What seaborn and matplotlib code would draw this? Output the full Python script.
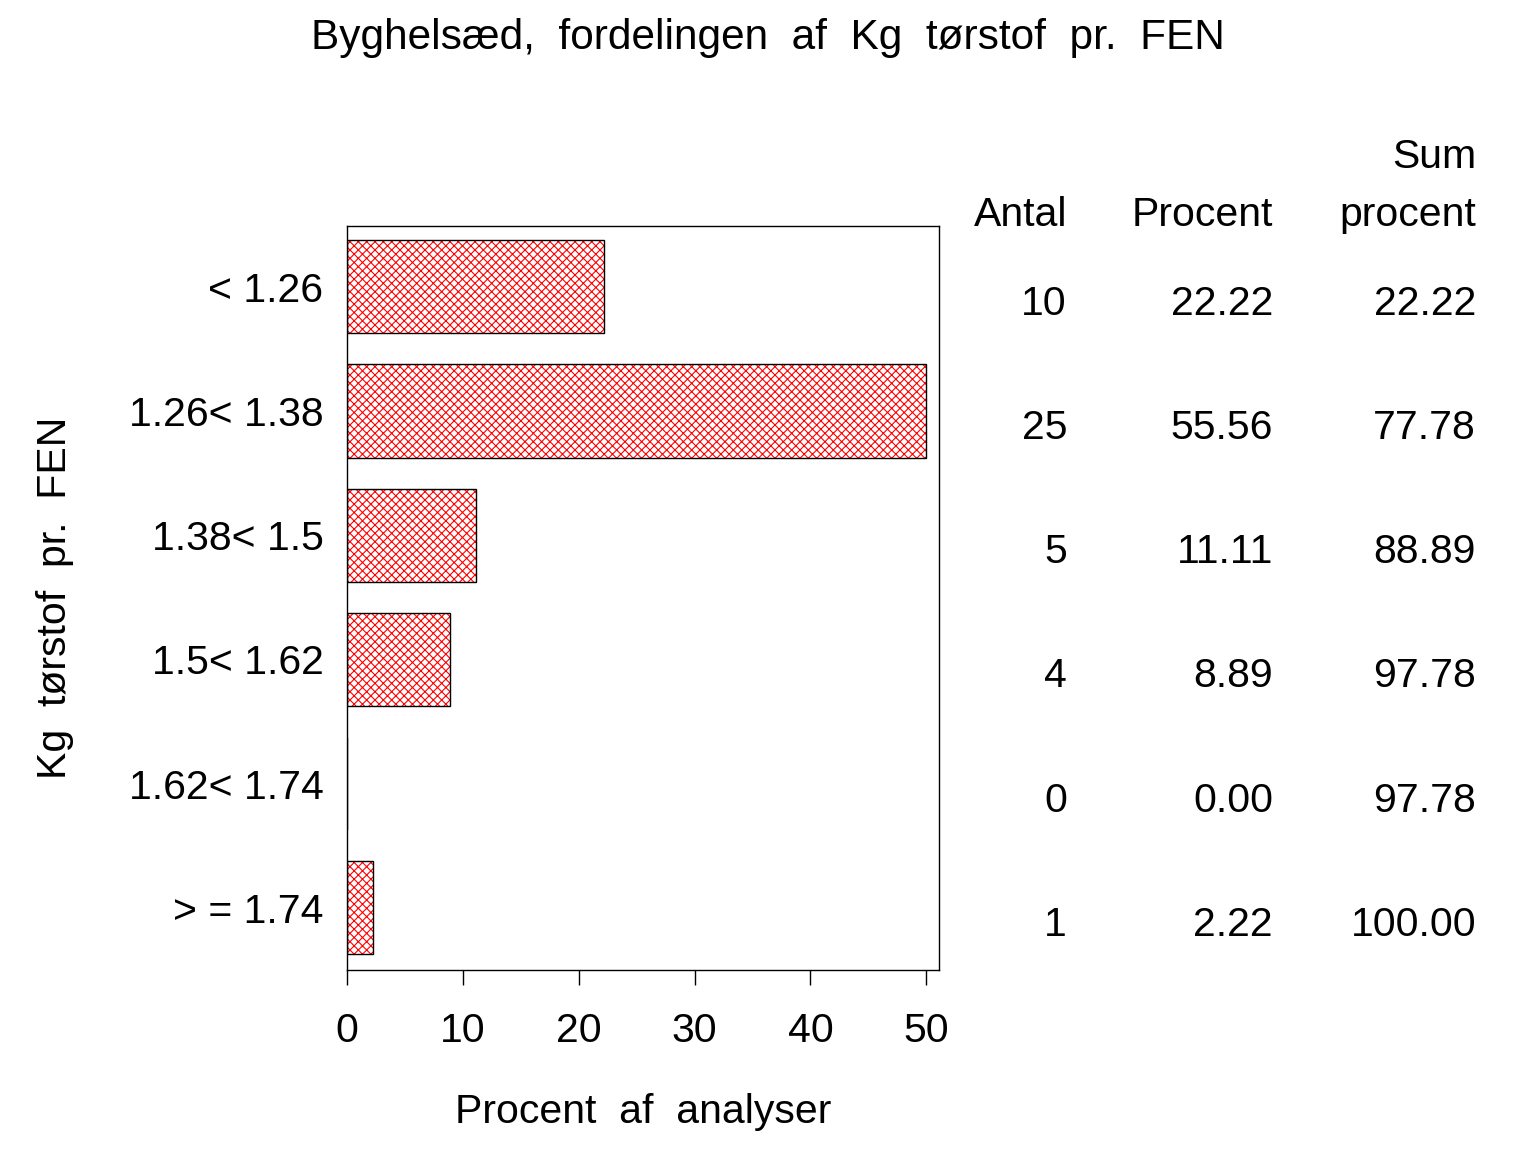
import numpy as np
import pandas as pd
import matplotlib
matplotlib.use("Agg")
import matplotlib.pyplot as plt
import matplotlib.colors as mcolors
import matplotlib.transforms as mtransforms
import seaborn as sns

# ---- data ----
categories = ["< 1.26", "1.26< 1.38", "1.38< 1.5", "1.5< 1.62", "1.62< 1.74", "> = 1.74"]
antal = [10, 25, 5, 4, 0, 1]
procent = [22.22, 55.56, 11.11, 8.89, 0.00, 2.22]
sum_procent = [22.22, 77.78, 88.89, 97.78, 97.78, 100.00]
x_ticks = [0, 10, 20, 30, 40, 50]
axis_max = 50

title = "Byghelsæd,  fordelingen  af  Kg  tørstof  pr.  FEN"
xlabel = "Procent  af  analyser"
ylabel = "Kg  tørstof  pr.  FEN"
col_headers = ["Antal", "Procent", "Sum\nprocent"]

sns.set_theme(style="white")
plt.rcParams["font.family"] = ["Liberation Sans", "DejaVu Sans"]
plt.rcParams["hatch.linewidth"] = 0.8
plt.rcParams["text.color"] = "black"
plt.rcParams["axes.labelcolor"] = "black"
plt.rcParams["xtick.color"] = "black"
plt.rcParams["ytick.color"] = "black"

df = pd.DataFrame({"cat": categories, "pct": np.minimum(procent, axis_max)})

W, H = 1536, 1152
fig = plt.figure(figsize=(W / 100, H / 100), dpi=100)
ax = fig.add_axes([347 / W, 1 - 970 / H, 592 / W, 744 / H])

sns.barplot(data=df, x="pct", y="cat", orient="h", color="white",
            edgecolor="black", linewidth=1.0, hatch="xxxx", width=0.75,
            saturation=1, ax=ax)
red = mcolors.to_rgba("red")
for p in ax.patches:
    p._hatch_color = red
    p.stale = True

ax.set_xlim(0, 51.1)
ax.set_ylim(5.5, -0.49)
ax.set_xticks(x_ticks)
ax.set_xticklabels([str(t) for t in x_ticks])
for s in ax.spines.values():
    s.set_visible(True)
    s.set_color("black")
    s.set_linewidth(1.0)

fs = 29.5
ax.tick_params(axis="x", direction="out", length=11, width=1.0, color="black",
               pad=19, labelsize=fs, bottom=True)
ax.tick_params(axis="y", length=0, pad=17, labelsize=fs, left=False)
ax.set_xlabel(xlabel, fontsize=fs, labelpad=31, color="black")
ax.set_ylabel(ylabel, fontsize=fs, labelpad=39, color="black")

fig.text(768 / W, 1 - 38 / H, title, ha="center", va="center", fontsize=30.5, color="black")

# table to the right
trans = mtransforms.blended_transform_factory(fig.transFigure, ax.transData)
col_x = [1067 / W, 1273 / W, 1476 / W]
fig.text(col_x[0], 1 - 226 / H, col_headers[0], ha="right", va="baseline", fontsize=fs)
fig.text(col_x[1], 1 - 226 / H, col_headers[1], ha="right", va="baseline", fontsize=fs)
fig.text(col_x[2], 1 - 226 / H, col_headers[2], ha="right", va="baseline", fontsize=fs,
         linespacing=1.65, multialignment="right")
for i in range(len(categories)):
    yb = i + 0.225
    ax.text(col_x[0], yb, f"{antal[i]}", transform=trans, ha="right", va="baseline", fontsize=fs)
    ax.text(col_x[1], yb, f"{procent[i]:.2f}", transform=trans, ha="right", va="baseline", fontsize=fs)
    ax.text(col_x[2], yb, f"{sum_procent[i]:.2f}", transform=trans, ha="right", va="baseline", fontsize=fs)

fig.savefig("out.png", dpi=100, facecolor="white")
